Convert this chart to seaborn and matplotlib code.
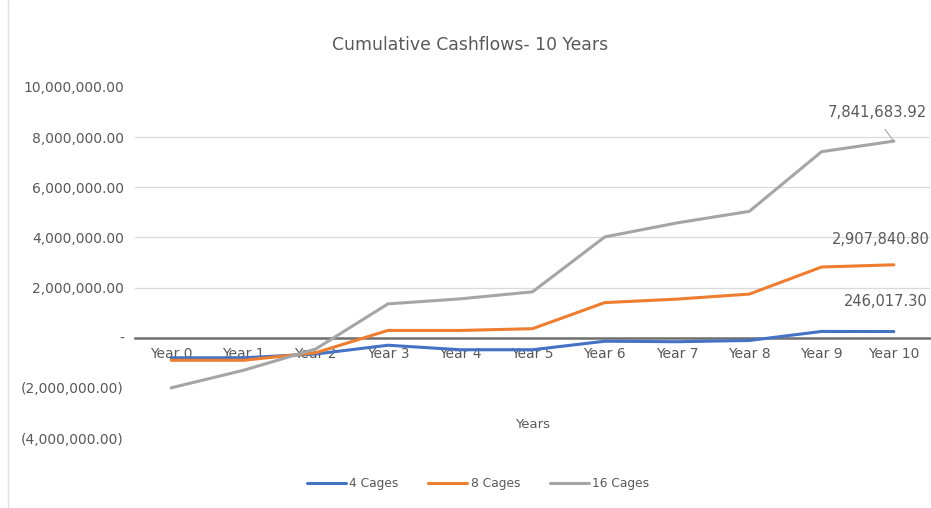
import matplotlib
matplotlib.use("Agg")
import matplotlib.pyplot as plt
import seaborn as sns
import pandas as pd

# Cumulative cashflows per scenario
years = ["Year 0", "Year 1", "Year 2", "Year 3", "Year 4", "Year 5",
         "Year 6", "Year 7", "Year 8", "Year 9", "Year 10"]
cages_4 = [-800000, -800000, -650000, -300000, -480000, -480000,
           -140000, -160000, -110000, 250000, 246017.30]
cages_8 = [-900000, -900000, -600000, 290000, 290000, 360000,
           1400000, 1540000, 1740000, 2820000, 2907840.80]
cages_16 = [-2000000, -1300000, -450000, 1350000, 1550000, 1830000,
            4020000, 4580000, 5040000, 7420000, 7841683.92]
series_names = ["4 Cages", "8 Cages", "16 Cages"]
series_colors = ["#4472C4", "#ED7D31", "#A5A5A5"]

ytick_values = [-4000000, -2000000, 0, 2000000, 4000000, 6000000, 8000000, 10000000]
ytick_labels = ["(4,000,000.00)", "(2,000,000.00)", "-", "2,000,000.00",
                "4,000,000.00", "6,000,000.00", "8,000,000.00", "10,000,000.00"]
grid_values = [2000000, 4000000, 6000000, 8000000]

df = pd.concat([
    pd.DataFrame({"Year": years, "Value": vals, "Series": name})
    for name, vals in zip(series_names, [cages_4, cages_8, cages_16])
])

sns.set_theme(style="white")
plt.rcParams["font.family"] = ["DejaVu Sans"]

text_color = "#595959"
fig = plt.figure(figsize=(9.31, 5.08), dpi=100)
ax = fig.add_axes([135 / 931, 1 - 438 / 508, 795 / 931, 351 / 508])

for gv in grid_values:
    ax.axhline(gv, color="#d9d9d9", lw=0.9, zorder=0)

sns.lineplot(data=df, x="Year", y="Value", hue="Series", hue_order=series_names,
             palette=series_colors, sort=False, lw=2.2, ax=ax, legend=True)

ax.set_xlim(-0.5, len(years) - 0.5)
ax.set_ylim(-4000000, 10000000)
ax.set_yticks(ytick_values)
ax.set_yticklabels(ytick_labels)
ax.tick_params(axis="y", length=0, pad=8, labelsize=10, labelcolor=text_color)
ax.tick_params(axis="x", length=0, pad=7, labelsize=10, labelcolor=text_color)

for s in ["top", "right", "left"]:
    ax.spines[s].set_visible(False)
ax.spines["bottom"].set_position(("data", 0))
ax.spines["bottom"].set_color("#6e6e6e")
ax.spines["bottom"].set_linewidth(1.8)
ax.spines["bottom"].set_zorder(1)

ax.set_ylabel("")
ax.set_xlabel("Years", fontsize=9.5, color=text_color)
ax.xaxis.set_label_coords(0.5, 20 / 351)

fig.suptitle("Cumulative Cashflows- 10 Years", x=470 / 931, y=1 - 45 / 508,
             fontsize=12.4, color=text_color, va="center")

# End-of-period value labels
last = len(years) - 1
px = 72 / 100
ax.annotate(f"{cages_16[-1]:,.2f}", xy=(last, cages_16[-1]),
            xytext=(-66 * px, 29 * px), textcoords="offset points",
            ha="left", va="center", fontsize=10.7, color=text_color,
            annotation_clip=False,
            arrowprops=dict(arrowstyle="-", color="#a6a6a6", lw=0.8,
                            shrinkA=6, shrinkB=0, relpos=(0.5, 0)))
ax.annotate(f"{cages_8[-1]:,.2f}", xy=(last, cages_8[-1]),
            xytext=(-62 * px, 25 * px), textcoords="offset points",
            ha="left", va="center", fontsize=10.5, color=text_color,
            annotation_clip=False)
ax.annotate(f"{cages_4[-1]:,.2f}", xy=(last, cages_4[-1]),
            xytext=(-50 * px, 30 * px), textcoords="offset points",
            ha="left", va="center", fontsize=10.5, color=text_color,
            annotation_clip=False)

leg = ax.legend(loc="center", bbox_to_anchor=(478 / 931, 1 - 484 / 508),
                bbox_transform=fig.transFigure, ncol=3, frameon=False,
                fontsize=8.8, handlelength=3.2, columnspacing=2.4,
                handletextpad=0.3)
for t in leg.get_texts():
    t.set_color(text_color)

# thin chart border on the left
fig.add_artist(plt.Line2D([8 / 931, 8 / 931], [0, 1], color="#e0e0e0", lw=1,
                          transform=fig.transFigure))

fig.savefig("out.png", dpi=100, facecolor="white")
